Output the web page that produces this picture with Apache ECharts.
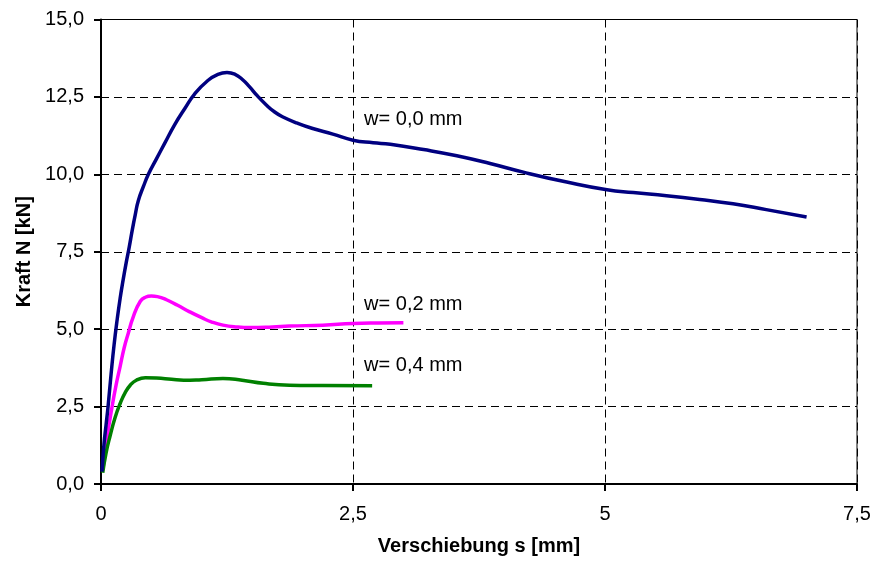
<!DOCTYPE html>
<html>
<head>
<meta charset="utf-8">
<script src="https://cdn.jsdelivr.net/npm/echarts@6/dist/echarts.min.js"></script>
<style>html,body{margin:0;padding:0;background:#fff}#c{width:874px;height:563px}</style>
</head>
<body>
<div id="c"></div>
<script>
// Data (s in mm, N in kN)
const w00 = [[0.01,0.4],[0.03,1.3],[0.05,1.9],[0.07,2.5],[0.1,3.55],[0.13,4.5],[0.16,5.3],[0.19,6.0],[0.22,6.6],[0.25,7.15],[0.28,7.65],[0.31,8.2],[0.34,8.7],[0.37,9.15],[0.42,9.6],[0.47,10.0],[0.55,10.5],[0.63,10.99],[0.73,11.6],[0.83,12.12],[0.93,12.6],[1.06,13.03],[1.16,13.23],[1.25,13.29],[1.33,13.23],[1.4,13.07],[1.47,12.84],[1.55,12.54],[1.64,12.24],[1.72,12.02],[1.8,11.86],[1.95,11.65],[2.1,11.48],[2.3,11.3],[2.5,11.1],[2.7,11.02],[2.87,10.97],[3.2,10.8],[3.53,10.6],[3.86,10.35],[4.19,10.07],[4.62,9.75],[5.02,9.5],[5.28,9.41],[5.61,9.31],[5.94,9.19],[6.27,9.05],[6.6,8.86],[7.0,8.62]];
const w02 = [[0.02,0.5],[0.06,1.5],[0.11,2.5],[0.15,3.2],[0.19,3.8],[0.23,4.4],[0.27,4.86],[0.32,5.4],[0.39,5.9],[0.44,6.03],[0.5,6.07],[0.56,6.05],[0.65,5.95],[0.76,5.77],[0.88,5.56],[1.0,5.37],[1.1,5.23],[1.21,5.13],[1.35,5.07],[1.48,5.05],[1.7,5.07],[1.87,5.1],[2.2,5.13],[2.5,5.18],[2.75,5.2],[3.0,5.21]];
const w04 = [[0.017,0.36],[0.05,1.0],[0.09,1.55],[0.14,2.15],[0.19,2.6],[0.24,2.95],[0.29,3.19],[0.35,3.35],[0.44,3.43],[0.55,3.42],[0.7,3.38],[0.82,3.35],[1.0,3.37],[1.21,3.41],[1.4,3.35],[1.61,3.25],[1.87,3.19],[2.2,3.18],[2.69,3.17]];
const seriesNames = ['w= 0,0 mm','w= 0,2 mm','w= 0,4 mm'];
const labelAnchors = [[2.61,11.77],[2.61,5.81],[2.61,3.82]];
const xTickLabels = ['0','2,5','5','7,5'];
const yTickLabels = ['0,0','2,5','5,0','7,5','10,0','12,5','15,0'];

const FONT = "'Liberation Sans', Arial, sans-serif";
const chart = echarts.init(document.getElementById('c'), null, {renderer:'canvas'});
const splitStyle = {lineStyle:{color:'#000', width:1, type:[8,5]}};
const lineSeries = (name, data, color, z) => ({type:'line', name, data, showSymbol:false,
  smooth:0.5, lineStyle:{color, width:3.5}, z});
chart.setOption({
  animation:false,
  backgroundColor:'#fff',
  grid:{left:101, right:17, top:19.5, bottom:79, show:true, borderColor:'#000', borderWidth:1, backgroundColor:'transparent'},
  xAxis:{type:'value', min:0, max:7.5, interval:2.5,
    name:'Verschiebung s [mm]', nameLocation:'middle', nameGap:52,
    nameTextStyle:{fontFamily:FONT, fontSize:20, fontWeight:'bold', color:'#000'},
    axisLine:{show:true, onZero:false, lineStyle:{color:'#000', width:2}},
    axisTick:{show:true, length:7, lineStyle:{color:'#000', width:2}},
    axisLabel:{margin:20, fontFamily:FONT, fontSize:20, color:'#000',
      formatter:(v)=>xTickLabels[Math.round(v/2.5)]},
    splitLine:Object.assign({show:true}, splitStyle)},
  yAxis:{type:'value', min:0, max:15, interval:2.5,
    name:'Kraft N [kN]', nameLocation:'middle', nameGap:66, nameRotate:90,
    nameTextStyle:{fontFamily:FONT, fontSize:20, fontWeight:'bold', color:'#000'},
    axisLine:{show:true, lineStyle:{color:'#000', width:2}},
    axisTick:{show:true, length:7, lineStyle:{color:'#000', width:2}},
    axisLabel:{margin:17, fontFamily:FONT, fontSize:20, color:'#000',
      formatter:(v)=>yTickLabels[Math.round(v/2.5)]},
    splitLine:Object.assign({show:true}, splitStyle)},
  series:[
    lineSeries(seriesNames[0], w00, '#000080', 4),
    lineSeries(seriesNames[1], w02, '#FF00FF', 3),
    lineSeries(seriesNames[2], w04, '#008000', 3),
    {type:'scatter', symbolSize:0, silent:true, itemStyle:{opacity:1},
      data:labelAnchors.map((p,i)=>({value:p, name:seriesNames[i]})),
      label:{show:true, position:'right', distance:0, formatter:(p)=>p.name,
        fontFamily:FONT, fontSize:20, color:'#000', opacity:1, verticalAlign:'middle'}}
  ]
});
</script>
</body>
</html>
